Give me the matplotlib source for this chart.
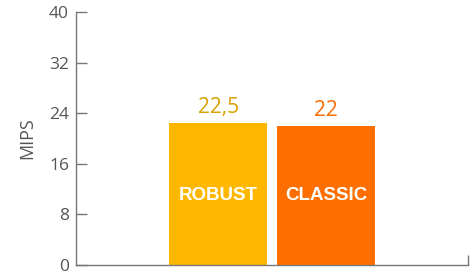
import matplotlib
matplotlib.use("Agg")
import matplotlib.pyplot as plt

categories = ["ROBUST", "CLASSIC"]
values = [22.5, 22]
value_labels = ["22,5", "22"]
bar_colors = ["#FFB700", "#FF6F00"]
label_colors = ["#D9A000", "#FF6A00"]
yticks = [0, 8, 16, 24, 32, 40]

fig = plt.figure(figsize=(4.75, 2.75), dpi=100)
ax = fig.add_axes([76/475, 10/275, 392/475, 253/275])
pos = [1.45, 2.55]
ax.bar(pos, values, width=1.0, color=bar_colors)
for p, v, lab, c, cat in zip(pos, values, value_labels, label_colors, categories):
    ax.text(p, v + 0.8, lab, ha="center", va="bottom", color=c, fontsize=15, family="Open Sans")
    ax.text(p, 11.0, cat, ha="center", va="center", color="white", fontsize=13.5,
            fontweight="bold", family="Liberation Sans")
ax.set_xlim(0, 4)
ax.set_ylim(0, 40)
ax.set_yticks(yticks)
ax.set_yticklabels([str(t) for t in yticks])
ax.set_xticks([4])
ax.set_xticklabels([""])
ax.tick_params(axis="x", direction="in", length=7, color="#777777", width=1)
ax.tick_params(axis="y", direction="in", length=8, color="#777777", width=1,
               labelsize=12.5, labelcolor="#555555", pad=5)
for l in ax.get_yticklabels():
    l.set_family("Open Sans")
for s in ["top", "right"]:
    ax.spines[s].set_visible(False)
for s in ["left", "bottom"]:
    ax.spines[s].set_color("#777777")
    ax.spines[s].set_linewidth(1)
ax.set_ylabel("MIPS", color="#555555", fontsize=13, family="Open Sans", labelpad=9)
fig.savefig("out.png", dpi=100)
